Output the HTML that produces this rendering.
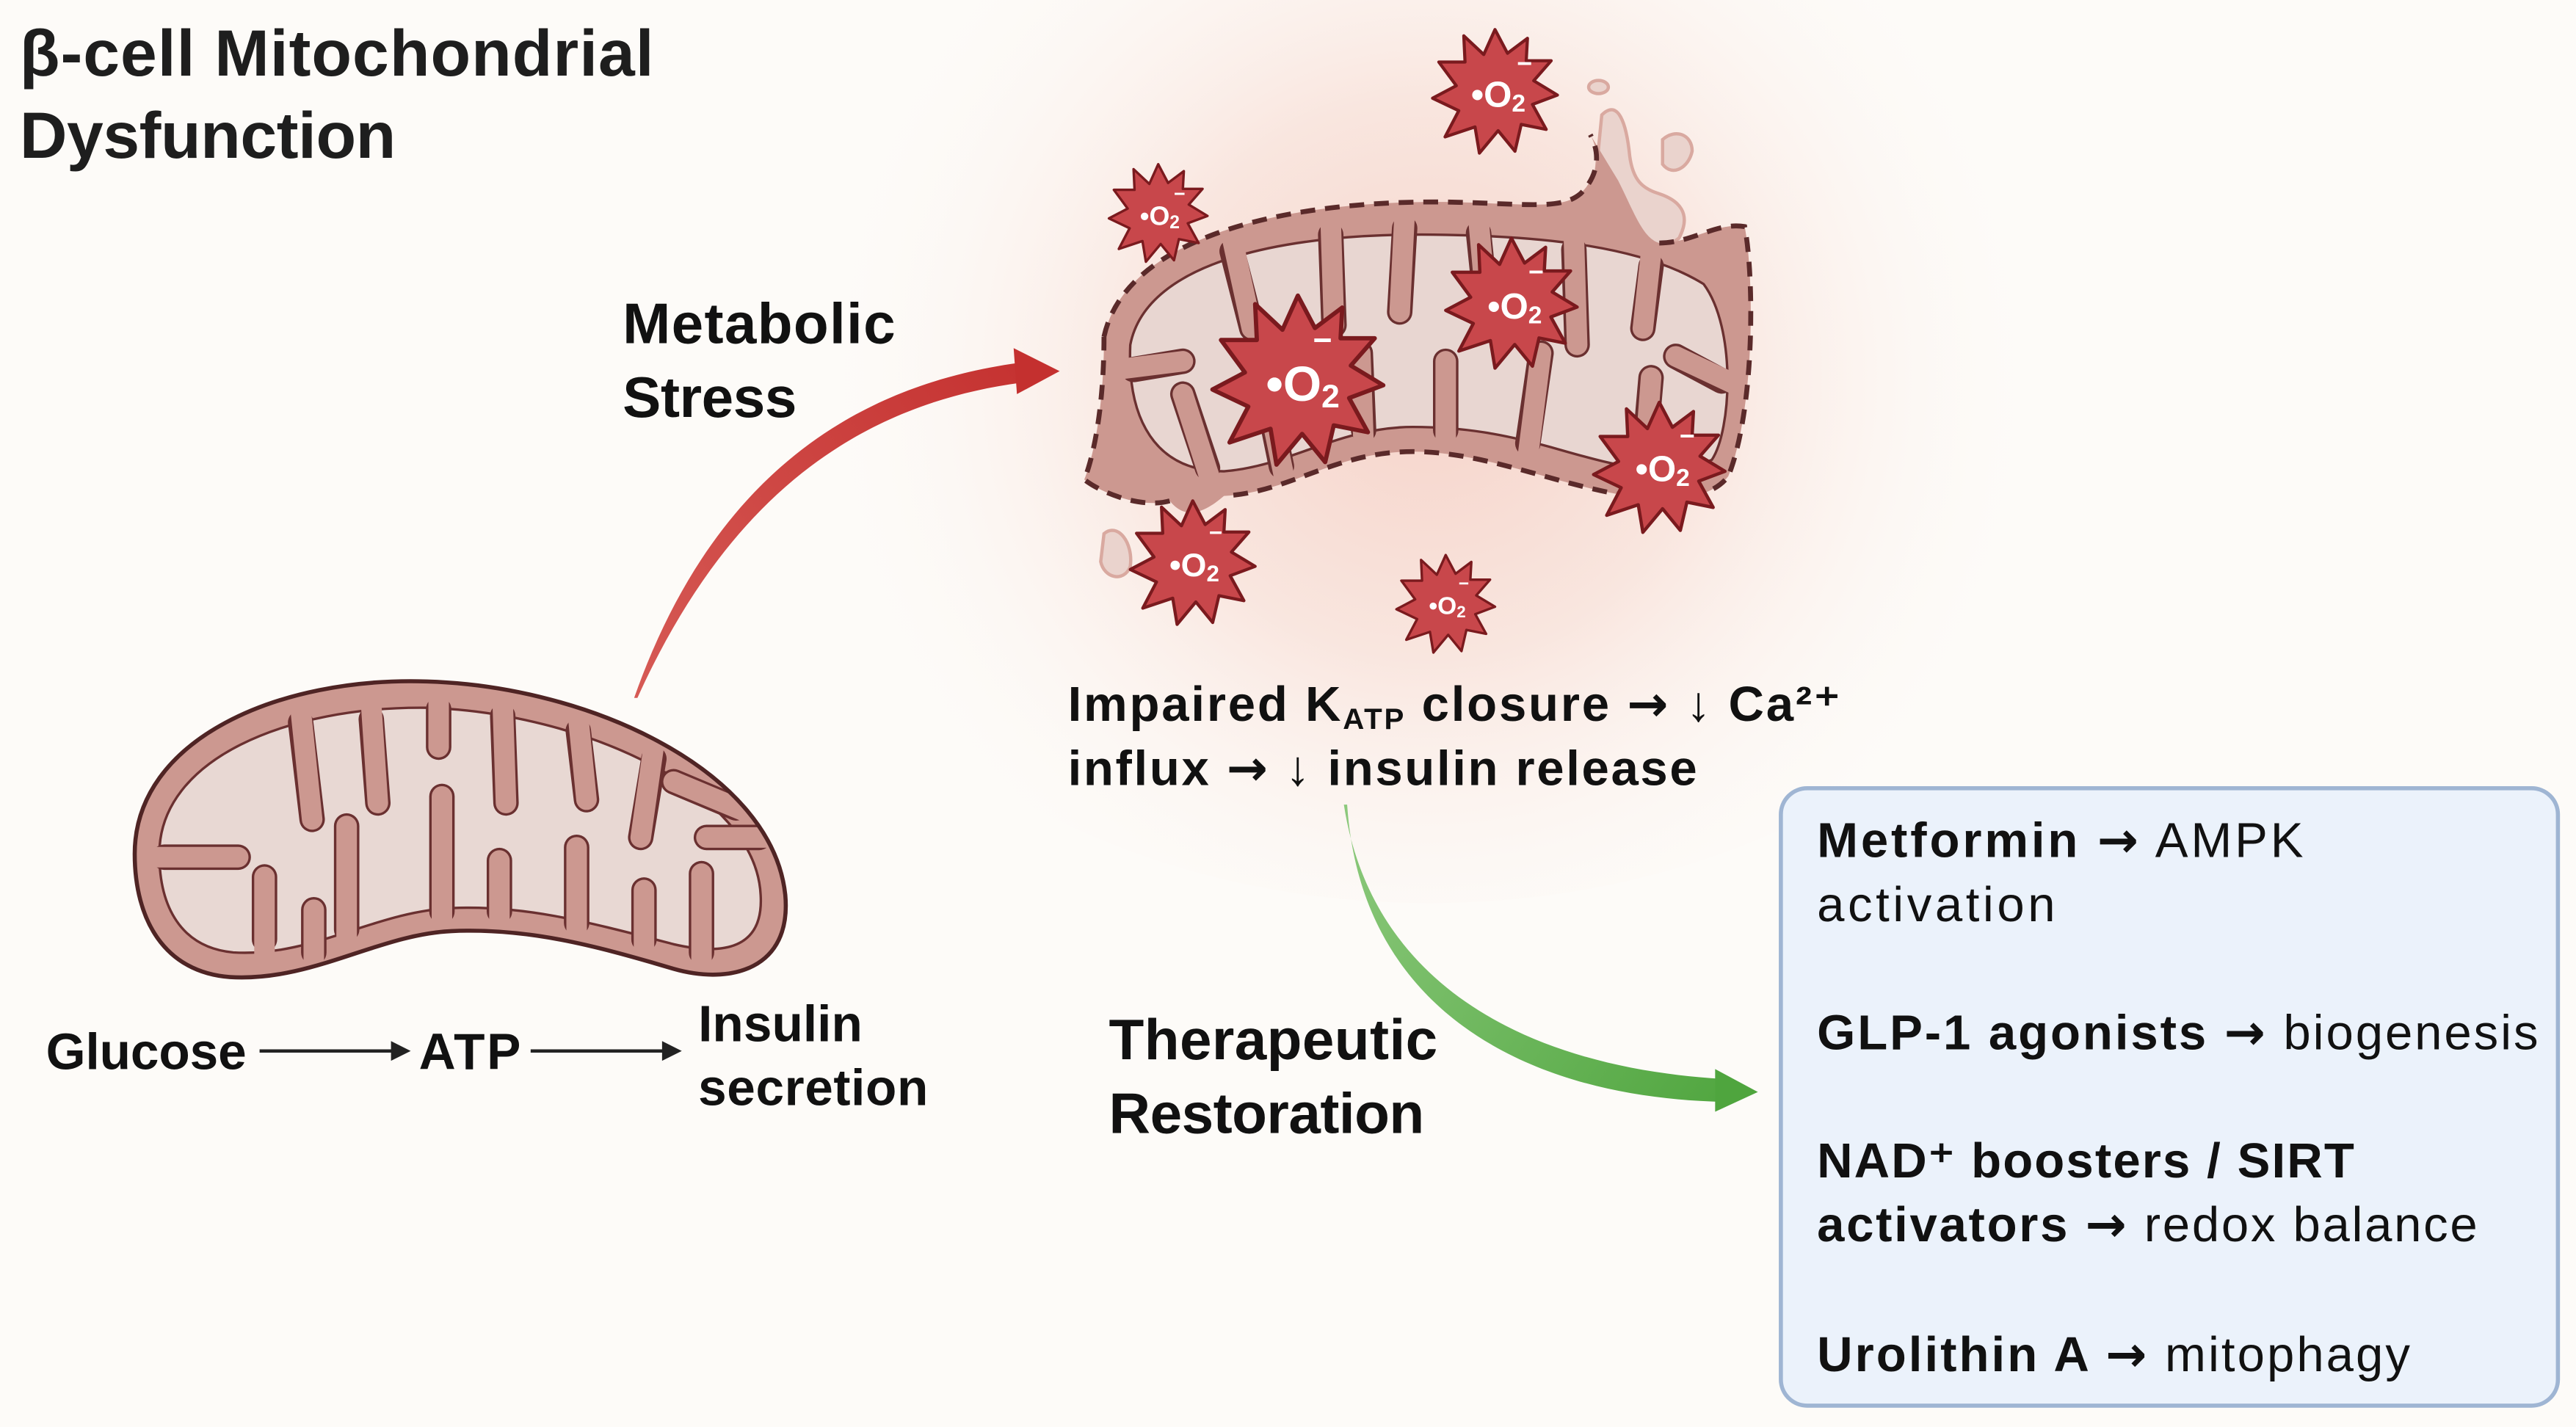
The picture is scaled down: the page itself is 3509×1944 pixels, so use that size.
<!DOCTYPE html>
<html><head><meta charset="utf-8"><style>
html,body{margin:0;padding:0;background:#fdfbf8;}
svg{display:block;}
text{font-family:"Liberation Sans",sans-serif;}
.ar{font-family:"DejaVu Sans",sans-serif;}
</style></head><body>
<svg width="3509" height="1944" viewBox="0 0 1568 869" preserveAspectRatio="none" xmlns="http://www.w3.org/2000/svg">
<defs>
<radialGradient id="glow" cx="870" cy="230" r="380" gradientUnits="userSpaceOnUse">
<stop offset="0" stop-color="#f6d3c9"/><stop offset="0.45" stop-color="#f9e6df"/><stop offset="1" stop-color="#fdfbf8" stop-opacity="0"/>
</radialGradient>
<linearGradient id="gg" x1="820" y1="490" x2="1068" y2="665" gradientUnits="userSpaceOnUse">
<stop offset="0" stop-color="#8cc97c"/><stop offset="1" stop-color="#4fa53e"/></linearGradient>
<linearGradient id="rg" x1="386" y1="425" x2="645" y2="225" gradientUnits="userSpaceOnUse">
<stop offset="0" stop-color="#d65a55"/><stop offset="1" stop-color="#c4302f"/></linearGradient>
<clipPath id="hc"><path d="M 82,520 C 82,450 170,412 260,415 C 360,418 470,470 478,545 C 482,590 445,600 410,590 C 360,575 320,565 275,567 C 230,569 190,598 140,595 C 100,592 82,560 82,520 Z"/></clipPath>
<clipPath id="dc"><path d="M 672,205 C 685,145 780,122 880,123 C 930,124 950,128 962,118 C 972,108 975,95 968,82 L 985,110 C 995,130 1000,145 1010,148 C 1030,148 1045,135 1062,138 C 1068,170 1068,250 1052,290 C 1040,306 1010,306 980,300 C 940,292 900,275 860,275 C 812,275 785,300 745,302 C 730,315 720,315 712,305 C 695,310 670,300 660,292 C 665,280 672,250 672,205 Z"/></clipPath>
<g id="star">
<polygon points="0,-1 0.2,-0.62 0.52,-0.86 0.5,-0.5 0.9,-0.5 0.62,-0.18 1,0.05 0.6,0.2 0.82,0.6 0.42,0.52 0.32,0.95 0.05,0.62 -0.25,0.98 -0.32,0.56 -0.8,0.72 -0.58,0.3 -1,0.1 -0.62,-0.1 -0.9,-0.48 -0.48,-0.48 -0.5,-0.9 -0.18,-0.6" fill="#c8474b" stroke="#7a1a1e" stroke-width="0.05" stroke-linejoin="round"/>
</g>
</defs>
<rect width="1568" height="869" fill="#fdfbf8"/>
<ellipse cx="870" cy="230" rx="420" ry="320" fill="url(#glow)"/>

<text x="12" y="46" font-size="40" font-weight="bold" fill="#1e1e1e" textLength="386">β-cell Mitochondrial</text>
<text x="12" y="96" font-size="40" font-weight="bold" fill="#1e1e1e" textLength="229">Dysfunction</text>

<!-- healthy mito -->
<path d="M 82,520 C 82,450 170,412 260,415 C 360,418 470,470 478,545 C 482,590 445,600 410,590 C 360,575 320,565 275,567 C 230,569 190,598 140,595 C 100,592 82,560 82,520 Z" fill="#cc9890"/>
<path d="M 97,520 C 97,462 175,430 260,431 C 355,434 460,482 463,545 C 465,578 440,582 410,575 C 360,562 320,551 275,553 C 228,555 190,583 142,580 C 110,577 97,552 97,520 Z" fill="#e8d8d3" stroke="#6a3030" stroke-width="1.5"/>
<g stroke-linecap="round" fill="none" clip-path="url(#hc)">
<g stroke="#6a3030" stroke-width="15.5">
<path d="M183,440 L190,499"/><path d="M226,438 L230,489"/><path d="M267,432 L267,455"/><path d="M306,436 L308,489"/><path d="M352,445 L357,487"/><path d="M398,462 L390,510"/>
<path d="M161,572 L161,534"/><path d="M191,580 L191,554"/><path d="M211,566 L211,503"/><path d="M269,555 L269,485"/><path d="M304,555 L304,524"/><path d="M351,562 L351,516"/><path d="M392,572 L392,542"/><path d="M427,580 L427,532"/>
<path d="M100,522 L145,522"/><path d="M462,510 L430,510"/><path d="M448,492 L410,476"/>
</g>
<g stroke="#cc9890" stroke-width="12.5">
<path d="M183,432 L190,499"/><path d="M226,430 L230,489"/><path d="M267,425 L267,455"/><path d="M306,428 L308,489"/><path d="M352,437 L357,487"/><path d="M398,454 L390,510"/>
<path d="M161,582 L161,534"/><path d="M191,590 L191,554"/><path d="M211,575 L211,503"/><path d="M269,562 L269,485"/><path d="M304,562 L304,524"/><path d="M351,570 L351,516"/><path d="M392,580 L392,542"/><path d="M427,588 L427,532"/>
<path d="M90,522 L145,522"/><path d="M472,510 L430,510"/><path d="M458,496 L410,476"/>
</g>
</g>
<path d="M 82,520 C 82,450 170,412 260,415 C 360,418 470,470 478,545 C 482,590 445,600 410,590 C 360,575 320,565 275,567 C 230,569 190,598 140,595 C 100,592 82,560 82,520 Z" fill="none" stroke="#4f2424" stroke-width="2.5"/>

<text x="28" y="651" font-size="31" font-weight="bold" fill="#111" textLength="122">Glucose</text>
<line x1="158" y1="640" x2="240" y2="640" stroke="#222" stroke-width="2"/><polygon points="238,634 250,640 238,646" fill="#222"/>
<text x="255" y="651" font-size="31" font-weight="bold" fill="#111" textLength="62">ATP</text>
<line x1="323" y1="640" x2="405" y2="640" stroke="#222" stroke-width="2"/><polygon points="403,634 415,640 403,646" fill="#222"/>
<text x="425" y="634" font-size="31" font-weight="bold" fill="#111" textLength="100">Insulin</text>
<text x="425" y="673" font-size="31" font-weight="bold" fill="#111" textLength="140">secretion</text>

<path d="M 386,425 C 430,300 510,236 620,221 L 622,233 C 515,247 440,310 388,425 Z" fill="url(#rg)"/>
<polygon points="617,212 645,226 619,240" fill="#c4302f"/>
<text x="379" y="209" font-size="35" font-weight="bold" fill="#111" textLength="166">Metabolic</text>
<text x="379" y="254" font-size="35" font-weight="bold" fill="#111" textLength="106">Stress</text>

<g fill="#ead3cd" stroke="#d9a9a0" stroke-width="2">
<path d="M 975,70 C 985,60 990,75 992,95 C 994,110 1000,115 1010,118 C 1022,122 1030,130 1022,145 C 1010,155 995,150 985,160 L 968,165 C 968,140 972,100 975,70 Z"/>
<path d="M 1012,85 C 1020,78 1030,82 1030,92 C 1028,102 1018,108 1012,100 Z"/>
<ellipse cx="973" cy="53" rx="6" ry="4"/>
<path d="M 672,325 C 680,318 690,330 688,345 C 684,355 672,352 670,342 Z"/>
</g>
<path d="M 672,205 C 685,145 780,122 880,123 C 930,124 950,128 962,118 C 972,108 975,95 968,82 L 985,110 C 995,130 1000,145 1010,148 C 1030,148 1045,135 1062,138 C 1068,170 1068,250 1052,290 C 1040,306 1010,306 980,300 C 940,292 900,275 860,275 C 812,275 785,300 745,302 C 730,315 720,315 712,305 C 695,310 670,300 660,292 C 665,280 672,250 672,205 Z" fill="#cc9890"/>
<path d="M 688,210 C 698,158 785,141 880,143 C 940,144 1000,150 1037,173 C 1057,200 1054,262 1042,280 C 1015,292 985,284 950,274 C 915,264 890,260 860,260 C 815,260 785,284 745,287 C 703,287 686,255 688,210 Z" fill="#e8d6d1" stroke="#6a3030" stroke-width="1.5"/>
<g stroke-linecap="round" fill="none" clip-path="url(#dc)">
<g stroke="#6a3030" stroke-width="15.5">
<path d="M750,153 L762,200"/><path d="M810,143 L812,198"/><path d="M855,139 L852,190"/><path d="M900,142 L905,190"/><path d="M958,152 L960,210"/><path d="M1005,162 L1000,200"/>
<path d="M735,285 L720,240"/><path d="M780,284 L768,225"/><path d="M830,262 L828,215"/><path d="M880,262 L880,220"/><path d="M930,270 L938,215"/><path d="M1000,287 L1005,230"/><path d="M1048,232 L1020,217"/><path d="M690,225 L720,220"/>
</g>
<g stroke="#cc9890" stroke-width="12.5">
<path d="M750,145 L762,200"/><path d="M810,135 L812,198"/><path d="M855,130 L852,190"/><path d="M900,134 L905,190"/><path d="M958,144 L960,210"/><path d="M1005,154 L1000,200"/>
<path d="M737,293 L720,240"/><path d="M782,292 L768,225"/><path d="M830,270 L828,215"/><path d="M880,270 L880,220"/><path d="M930,278 L938,215"/><path d="M1000,295 L1005,230"/><path d="M1056,234 L1020,217"/><path d="M680,225 L720,220"/>
</g>
</g>
<path d="M 672,205 C 685,145 780,122 880,123 C 930,124 950,128 962,118 C 972,108 975,95 968,82 M 1010,148 C 1030,148 1045,135 1062,138 C 1068,170 1068,250 1052,290 C 1040,306 1010,306 980,300 C 940,292 900,275 860,275 C 812,275 785,300 745,302 M 712,305 C 695,310 670,300 660,292 C 665,280 672,250 672,205" fill="none" stroke="#5a2a2a" stroke-width="3" stroke-dasharray="9 6"/>

<g font-weight="bold" fill="#fff" text-anchor="middle">
<g transform="translate(910,56) scale(38)"><use href="#star"/></g>
<text x="912" y="65" font-size="22">•O<tspan font-size="15" dy="3">2</tspan></text><text x="928" y="44" font-size="16">−</text>
<g transform="translate(705,130) scale(30)"><use href="#star"/></g>
<text x="706" y="137" font-size="16">•O<tspan font-size="11" dy="2">2</tspan></text><text x="718" y="122" font-size="12">−</text>
<g transform="translate(790,232) scale(52)"><use href="#star"/></g>
<text x="793" y="244" font-size="30">•O<tspan font-size="20" dy="4">2</tspan></text><text x="805" y="214" font-size="20">−</text>
<g transform="translate(920,185) scale(40)"><use href="#star"/></g>
<text x="922" y="194" font-size="22">•O<tspan font-size="15" dy="3">2</tspan></text><text x="935" y="171" font-size="16">−</text>
<g transform="translate(1010,285) scale(40)"><use href="#star"/></g>
<text x="1012" y="293" font-size="22">•O<tspan font-size="15" dy="3">2</tspan></text><text x="1027" y="271" font-size="16">−</text>
<g transform="translate(726,343) scale(38)"><use href="#star"/></g>
<text x="727" y="351" font-size="20">•O<tspan font-size="14" dy="3">2</tspan></text><text x="740" y="329" font-size="14">−</text>
<g transform="translate(880,368) scale(30)"><use href="#star"/></g>
<text x="881" y="374" font-size="15">•O<tspan font-size="10" dy="2">2</tspan></text><text x="891" y="359" font-size="11">−</text>
</g>

<text x="650" y="439" font-size="30" font-weight="bold" fill="#111" textLength="470">Impaired K<tspan font-size="18" dy="5">ATP</tspan><tspan dy="-5"> closure </tspan><tspan class="ar">→</tspan> ↓ Ca²⁺</text>
<text x="650" y="478" font-size="30" font-weight="bold" fill="#111" textLength="383">influx <tspan class="ar">→</tspan> ↓ insulin release</text>

<path d="M 818,490 C 835,600 930,650 1048,657 L 1048,671 C 925,668 828,612 820,490 Z" fill="url(#gg)"/>
<polygon points="1044,651 1070,665 1044,677" fill="#4fa53e"/>
<text x="675" y="645" font-size="35" font-weight="bold" fill="#111" textLength="200">Therapeutic</text>
<text x="675" y="690" font-size="35" font-weight="bold" fill="#111" textLength="192">Restoration</text>

<rect x="1084" y="480" width="473" height="376" rx="16" fill="#ebf2fb" stroke="#9fb5d3" stroke-width="2.5"/>
<g font-size="30" fill="#111">
<text x="1106" y="522" textLength="296"><tspan font-weight="bold">Metformin </tspan><tspan class="ar" font-weight="bold">→</tspan> AMPK</text>
<text x="1106" y="561" textLength="145">activation</text>
<text x="1106" y="639" textLength="439"><tspan font-weight="bold">GLP-1 agonists </tspan><tspan class="ar" font-weight="bold">→</tspan> biogenesis</text>
<text x="1106" y="717" font-weight="bold" textLength="327">NAD⁺ boosters / SIRT</text>
<text x="1106" y="756" textLength="402"><tspan font-weight="bold">activators </tspan><tspan class="ar" font-weight="bold">→</tspan> redox balance</text>
<text x="1106" y="835" textLength="361"><tspan font-weight="bold">Urolithin A </tspan><tspan class="ar" font-weight="bold">→</tspan> mitophagy</text>
</g>
</svg>
</body></html>
